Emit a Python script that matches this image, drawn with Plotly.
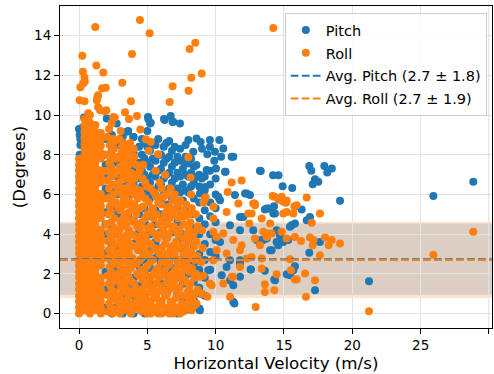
import plotly.graph_objects as go

# ---------------- data ----------------
# Roll (orange): dense core, columns of (x, [y values])
roll_core_columns = [
    (0.0, [0.0, 0.3, 0.62, 0.9, 1.21, 1.5, 1.82, 2.1, 2.41, 2.7, 3.02, 3.3, 3.61, 3.9, 4.22, 4.5, 4.81,
           5.1, 5.42, 5.7, 6.01, 6.3, 6.62, 6.9, 7.21, 7.5, 7.8]),
    (0.4, [0.15, 0.46, 0.75, 1.06, 1.35, 1.66, 1.95, 2.26, 2.55, 2.86, 3.15, 3.46, 3.75, 4.06, 4.35, 4.66,
           4.95, 5.26, 5.55, 5.86, 6.15, 6.46, 6.75, 7.06, 7.35, 7.66, 7.95, 8.26, 8.55, 8.86, 9.15, 9.46, 9.8]),
    (0.8, [0.0, 0.31, 0.6, 0.91, 1.2, 1.51, 1.8, 2.11, 2.4, 2.71, 3.0, 3.31, 3.6, 3.91, 4.2, 4.51, 4.8,
           5.11, 5.4, 5.71, 6.0, 6.31, 6.6, 6.91, 7.2, 7.51, 7.8, 8.11, 8.4, 8.71, 9.0, 9.31, 9.62, 10.0]),
    (1.2, [0.16, 0.45, 0.76, 1.05, 1.36, 1.65, 1.96, 2.25, 2.56, 2.85, 3.16, 3.45, 3.76, 4.05, 4.36, 4.65,
           4.96, 5.25, 5.56, 5.85, 6.16, 6.45, 6.76, 7.05, 7.36, 7.65, 7.96, 8.25, 8.56, 8.85, 9.16, 9.5]),
    (1.6, [0.0, 0.3, 0.61, 0.9, 1.22, 1.5, 1.81, 2.42, 2.7, 3.01, 3.3, 3.62, 3.9, 4.21, 4.82, 5.1, 5.41,
           5.7, 6.02, 6.61, 6.9, 7.22, 7.81, 8.1, 8.45, 8.8, 9.1]),
    (2.35, [0.3, 0.75, 1.3, 2.1, 2.9, 3.8, 4.6, 5.1, 5.9, 6.9, 7.4, 8.1]),
    (2.45, [0.0, 1.0, 1.6, 2.5, 3.3, 4.2, 5.6, 6.5, 7.2, 7.9, 8.8]),
    (2.85, [0.2, 0.6, 1.6, 2.0, 2.8, 3.6, 4.0, 5.4, 6.3, 7.2, 7.9]),
    (3.15, [0.25, 1.6, 2.6, 3.4, 4.4, 5.4, 6.0, 6.8, 7.8, 8.4]),
    (3.25, [0.6, 1.1, 2.2, 3.0, 3.6, 4.8, 5.7, 6.3, 7.0, 7.7, 8.6]),
    (3.55, [1.2, 2.1, 2.9, 3.7, 4.6, 6.1, 7.0, 8.0]),
    (3.65, [0.4, 0.9, 1.8, 2.5, 3.1, 4.2, 5.1, 5.7, 6.4, 7.5, 8.2]),
    (4.05, [0.2, 1.0, 1.5, 2.6, 3.4, 4.6, 5.5, 6.0, 6.8, 7.9]),
    (4.45, [0.5, 1.0, 1.9, 2.7, 3.7, 4.3, 5.3, 6.2, 7.2]),
    (4.85, [0.3, 0.8, 1.4, 2.0, 3.2, 3.9, 4.8, 5.8, 6.6]),
    (5.25, [0.0, 0.6, 1.1, 1.8, 2.6, 3.5, 4.4, 5.1, 6.3]),
    (5.65, [0.3, 0.8, 1.5, 2.2, 3.2, 4.0, 5.0, 5.9]),
    (6.05, [0.0, 0.6, 1.2, 1.9, 2.6, 3.3, 4.0, 4.7, 5.5, 6.3]),
    (6.45, [0.3, 1.0, 1.6, 2.4, 3.0, 3.8, 4.5, 5.2, 6.0]),
    (6.85, [0.0, 0.5, 1.3, 2.0, 2.8, 3.4, 4.2, 5.0, 5.7]),
    (7.25, [0.3, 1.1, 1.8, 2.5, 3.3, 4.0, 4.8, 5.5]),
    (7.65, [0.1, 0.9, 1.6, 2.3, 3.0, 3.8, 4.5, 5.2]),
    (8.05, [0.6, 1.3, 2.1, 2.8, 3.6, 4.3, 5.0]),
    (8.45, [0.4, 1.0, 1.8, 2.7, 3.4, 4.1]),
]

roll_mid_points = [
    (2.1, 0.1), (2.2, 0.5), (2.0, 0.95), (2.2, 1.5), (2.1, 1.9), (2.25, 2.35), (2.05, 2.8), (2.2, 3.2),
    (2.1, 3.65), (2.2, 4.1), (2.0, 4.5), (2.15, 5.0), (2.25, 5.4), (2.05, 5.8), (2.2, 6.3), (2.1, 6.7),
    (2.0, 7.2), (2.2, 7.6), (2.1, 8.0), (2.25, 8.5), (2.05, 8.9), (2.2, 9.3),
    (2.6, 0.2), (2.7, 0.7), (2.55, 1.1), (2.65, 1.8), (2.6, 2.6), (2.7, 3.0), (2.55, 3.4), (2.65, 4.3),
    (2.6, 4.8), (2.7, 5.6), (2.55, 6.0), (2.65, 6.5), (2.6, 7.0), (2.7, 7.8), (2.55, 8.3), (2.65, 8.7),
    (3.0, 0.0), (3.1, 0.4), (2.95, 0.9), (3.05, 1.3), (3.1, 2.0), (2.95, 2.4), (3.0, 3.1), (3.1, 3.8),
    (2.95, 4.2), (3.05, 4.6), (3.0, 5.2), (3.1, 6.1), (2.95, 6.6), (3.0, 7.4), (3.1, 8.1), (2.95, 8.8),
    (3.05, 9.2),
    (3.4, 0.2), (3.5, 0.7), (3.35, 1.5), (3.45, 1.9), (3.4, 2.7), (3.5, 3.3), (3.35, 3.9), (3.45, 4.4),
    (3.4, 5.0), (3.5, 5.5), (3.35, 5.9), (3.45, 6.8), (3.4, 7.3), (3.5, 7.9), (3.35, 8.4),
    (3.8, 0.0), (3.9, 0.5), (3.75, 1.1), (3.85, 1.6), (3.8, 2.3), (3.9, 2.8), (3.75, 3.5), (3.85, 4.0),
    (3.8, 4.7), (3.9, 5.3), (3.75, 6.2), (3.85, 6.6), (3.8, 7.1), (3.9, 7.7), (3.75, 8.6),
    (4.2, 0.3), (4.3, 0.8), (4.15, 1.3), (4.25, 2.0), (4.2, 2.5), (4.3, 3.2), (4.15, 3.9), (4.25, 4.4),
    (4.2, 5.0), (4.3, 5.8), (4.15, 6.3), (4.25, 7.0), (4.2, 7.5),
    (4.6, 0.1), (4.7, 0.6), (4.55, 1.2), (4.65, 1.7), (4.6, 2.2), (4.7, 2.9), (4.55, 3.4), (4.65, 4.0),
    (4.6, 4.6), (4.7, 5.4), (4.55, 6.0), (4.65, 6.8),
    (5.0, 0.0), (5.1, 0.4), (4.95, 1.0), (5.05, 1.5), (5.0, 2.4), (5.1, 3.0), (4.95, 3.6), (5.05, 4.3),
    (5.0, 5.0), (5.1, 5.6), (4.95, 6.4),
    (5.4, 0.2), (5.5, 0.8), (5.35, 1.3), (5.45, 2.0), (5.4, 2.7), (5.5, 3.3), (5.35, 4.1), (5.45, 4.8),
    (5.4, 5.3), (5.5, 6.1),
    (5.8, 0.0), (5.9, 0.5), (5.75, 1.1), (5.85, 1.8), (5.8, 2.3), (5.9, 3.0), (5.75, 3.8), (5.85, 4.5),
    (5.8, 5.6), (5.9, 6.6),
    (6.2, 0.3), (6.3, 0.9), (6.15, 1.4), (6.25, 2.1), (6.2, 2.8), (6.3, 3.5), (6.15, 4.2), (6.25, 5.0),
    (6.2, 5.9),
    (6.6, 0.0), (6.7, 0.6), (6.55, 1.2), (6.65, 1.9), (6.6, 2.5), (6.7, 3.2), (6.55, 4.0), (6.65, 4.8),
    (6.6, 5.4), (6.7, 6.3),
    (7.0, 0.2), (7.1, 0.8), (6.95, 1.6), (7.05, 2.2), (7.0, 3.0), (7.1, 3.6), (6.95, 4.4), (7.05, 5.2),
    (7.0, 6.0),
    (7.4, 0.0), (7.5, 0.5), (7.35, 1.3), (7.45, 2.0), (7.4, 2.7), (7.5, 3.4), (7.35, 4.2), (7.45, 5.0),
    (7.4, 5.7),
    (7.8, 0.3), (7.9, 1.0), (7.75, 1.7), (7.85, 2.5), (7.8, 3.3), (7.9, 4.0), (7.75, 4.9), (7.85, 5.5),
    (8.2, 0.2), (8.3, 0.8), (8.15, 1.5), (8.25, 2.3), (8.2, 3.1), (8.3, 3.9), (8.15, 4.6), (8.25, 5.3),
    (8.2, 6.0),
    (8.6, 0.5), (8.7, 1.2), (8.55, 2.0), (8.65, 2.9), (8.6, 3.6), (8.7, 4.4), (8.55, 5.0),
    (9.0, 1.0), (9.1, 1.9), (8.95, 2.6), (9.05, 3.3), (9.0, 4.2), (9.1, 5.6),
    (4.7, 7.5), (5.1, 8.2), (5.8, 8.03), (4.9, 8.78), (5.25, 8.66), (5.6, 7.2), (6.3, 7.0), (4.0, 8.3),
    (2.4, 9.6), (8.0, 7.88), (8.17, 6.86),
]

roll_outer_points = [
    (1.19, 14.44), (4.46, 14.79), (5.17, 14.13), (8.51, 13.65), (8.1, 13.33), (3.88, 13.08), (0.24, 12.99),
    (1.27, 12.5), (1.78, 12.15), (0.29, 12.18), (0.4, 11.9), (0.42, 11.7), (8.98, 12.1), (8.22, 11.88),
    (0.1, 11.4), (0.3, 11.6), (3.17, 11.63), (1.7, 11.35), (1.96, 11.38), (6.85, 11.45), (8.02, 11.23),
    (1.3, 10.75), (1.4, 11.0), (1.35, 10.9), (0.05, 10.75), (0.4, 10.7), (3.8, 10.7), (6.64, 10.66),
    (1.4, 10.4), (1.9, 10.2), (3.37, 10.15), (4.24, 9.95), (3.66, 9.81), (2.61, 9.88), (4.49, 9.28),
    (1.54, 10.25), (0.68, 10.1), (2.0, 10.25), (2.5, 9.9), (14.22, 14.39),
    (11.17, 6.6), (11.9, 6.7), (10.88, 6.13), (9.27, 5.86), (14.3, 5.88), (14.6, 5.73), (15.2, 5.7),
    (12.85, 5.55), (15.76, 5.41), (28.85, 4.12), (25.93, 2.96), (21.22, 0.12), (12.93, 0.33),
    (16.61, 0.84), (17.27, 1.68), (13.6, 1.47), (13.6, 1.09), (14.29, 1.17), (16.54, 2.02), (15.8, 1.71),
    (15.51, 2.18), (13.37, 2.27), (15.44, 2.74), (17.63, 2.94), (19.1, 3.53), (18.49, 3.7), (18.0, 3.83),
    (18.27, 3.44), (17.15, 3.7), (16.9, 3.83), (17.1, 3.44), (17.03, 4.57), (17.63, 5.04), (16.66, 5.85),
    (15.68, 5.04), (15.2, 5.12), (14.95, 5.04), (14.95, 5.63), (14.58, 5.8), (14.17, 5.92), (14.83, 5.88),
    (15.15, 5.58), (13.98, 4.54), (13.85, 4.03), (13.49, 4.12), (13.24, 3.44), (12.88, 3.78), (12.46, 4.54),
    (12.75, 5.55), (12.63, 5.04), (15.2, 3.78), (15.8, 3.86), (16.24, 3.65), (13.37, 2.77), (12.27, 2.77),
    (12.63, 2.85), (11.05, 0.84), (9.71, 1.43), (10.56, 1.51), (11.17, 1.85), (14.46, 1.98), (15.93, 1.71),
    (12.88, 5.46), (13.37, 4.79), (15.93, 5.46), (13.73, 3.86), (14.1, 4.03), (14.83, 4.12),
    (9.83, 4.12), (10.56, 4.03), (11.29, 3.7), (10.07, 3.19), (10.8, 3.03), (11.78, 3.19), (9.83, 4.79),
    (9.22, 5.8), (9.83, 5.38), (11.66, 5.55), (10.8, 5.12), (12.39, 5.04), (10.07, 3.86), (11.9, 3.44),
    (9.83, 2.69), (9.58, 1.51), (11.29, 1.85), (8.24, 0.17), (7.51, 0.25), (8.85, 1.85), (8.1, 0.84),
    (9.4, 0.84), (11.78, 2.35),
]

# Pitch (blue): columns behind the mass plus scattered points
pitch_core_columns = [
    (1.95, [0.3, 1.2, 2.1, 3.0, 4.0, 4.5, 5.1, 6.0, 6.3, 7.0, 7.5, 8.0, 8.8]),
    (2.4, [0.0, 0.9, 1.7, 2.6, 3.5, 4.4, 5.3, 6.2, 7.1, 8.2, 9.0]),
    (2.8, [0.4, 1.4, 2.2, 3.3, 4.0, 5.0, 6.0, 6.9, 7.6, 8.5]),
    (3.2, [0.0, 1.0, 1.8, 2.7, 3.6, 4.6, 5.5, 6.4, 7.2, 8.0, 8.9]),
    (3.6, [0.3, 1.3, 2.2, 3.0, 4.0, 4.9, 5.8, 6.7, 7.6, 8.3, 9.2]),
    (4.0, [0.0, 0.9, 1.8, 2.6, 3.5, 4.7, 5.5, 6.5, 7.3, 8.1, 8.9]),
    (4.4, [0.4, 1.4, 2.4, 3.2, 4.1, 5.0, 5.9, 6.8, 7.6, 8.4]),
    (4.8, [0.0, 0.9, 1.9, 2.7, 3.8, 4.6, 5.3, 6.2, 7.0, 7.8, 8.6]),
    (5.2, [0.5, 1.5, 2.3, 3.2, 4.0, 4.9, 5.8, 6.6, 7.4, 8.2]),
    (5.6, [0.1, 1.0, 2.0, 2.8, 3.6, 4.5, 5.2, 6.0, 6.9, 7.7, 8.5]),
    (6.0, [0.6, 1.5, 2.5, 3.3, 4.1, 5.0, 5.8, 6.5, 7.3, 8.0]),
    (6.4, [0.1, 1.1, 2.0, 2.9, 3.8, 4.6, 5.5, 6.2, 7.0, 7.8, 8.6]),
    (6.8, [0.5, 1.5, 2.3, 3.3, 4.1, 5.0, 5.8, 6.6, 7.4, 8.2]),
    (7.2, [0.0, 1.0, 1.9, 2.7, 3.6, 4.6, 5.4, 6.3, 7.1, 7.9]),
    (7.6, [0.6, 1.5, 2.4, 3.2, 4.0, 4.9, 5.7, 6.5, 7.3]),
    (8.0, [0.2, 1.1, 2.0, 2.8, 3.6, 4.4, 5.2, 6.1, 6.9, 7.6]),
    (8.4, [0.7, 1.6, 2.5, 3.4, 4.3, 5.0, 5.8, 6.6, 7.4]),
    (8.8, [0.2, 1.3, 2.2, 3.0, 4.0, 4.8, 5.6, 6.4, 7.0]),
    (9.2, [0.9, 1.8, 2.7, 3.5, 4.5, 5.2, 6.2, 6.9]),
    (9.6, [2.2, 3.1, 4.0, 4.9, 5.6, 6.5]),
    (10.0, [2.9, 3.7, 4.6, 5.3, 6.0, 6.8]),
    (4.6, [6.4, 7.2, 8.0, 8.8]),
    (5.0, [6.0, 6.8, 7.6, 8.4, 9.2]),
    (5.4, [6.2, 7.0, 7.8, 8.6]),
    (5.8, [6.4, 7.2, 8.0, 8.8]),
    (6.2, [6.0, 6.8, 7.6, 8.4]),
    (6.6, [6.3, 7.1, 7.9, 8.7]),
    (7.0, [6.0, 6.8, 7.6, 8.4]),
    (7.4, [6.1, 6.9, 7.7, 8.3]),
    (7.8, [6.2, 7.0, 7.9, 8.5]),
    (8.2, [6.4, 7.1, 7.8]),
]

pitch_outer_points = [
    (0.05, 8.0), (0.1, 8.5), (0.05, 9.0), (0.1, 8.8), (0.3, 9.4), (0.37, 9.88), (0.0, 9.3),
    (2.03, 9.83), (5.05, 9.91), (5.25, 9.61), (6.22, 9.8), (6.71, 9.96), (6.9, 9.66), (7.39, 9.58),
    (3.49, 9.16), (3.97, 8.9), (2.76, 9.58), (5.07, 9.8), (5.2, 9.58), (6.27, 9.76), (6.85, 9.65),
    (8.0, 8.74), (8.6, 8.82), (8.9, 8.65), (9.58, 8.74), (10.27, 8.74), (10.56, 8.32), (11.29, 7.9),
    (9.95, 8.15), (9.39, 8.03), (8.36, 8.15), (8.0, 7.56), (9.58, 7.19), (10.02, 7.31), (10.73, 7.14),
    (8.6, 7.48), (8.98, 6.81), (9.22, 6.38), (10.19, 5.88), (11.41, 5.97), (12.15, 6.05), (12.51, 5.97),
    (9.58, 8.4), (11.17, 7.9), (10.68, 7.14), (9.34, 7.23), (7.76, 7.56), (8.61, 6.89), (9.9, 7.7),
    (10.4, 7.9), (9.0, 8.3),
    (13.24, 7.19), (14.2, 6.97), (14.6, 6.97), (14.9, 6.42), (15.6, 6.33), (13.9, 5.29), (13.3, 7.18),
    (16.85, 7.43), (17.0, 7.19), (17.27, 6.77), (17.51, 6.64), (17.1, 6.52), (17.95, 7.44), (18.17, 7.11),
    (18.5, 7.31), (28.85, 6.64), (19.1, 5.68), (25.93, 5.92), (21.22, 1.63), (17.27, 1.17), (14.29, 1.71),
    (15.2, 1.98), (15.44, 1.93), (15.8, 2.38), (13.6, 2.15), (12.58, 2.22), (16.85, 3.06), (17.63, 3.61),
    (16.9, 4.87), (16.66, 4.7), (16.29, 5.24), (15.8, 5.38), (14.22, 5.04), (13.6, 5.24), (14.27, 5.41),
    (15.44, 4.37), (15.56, 4.45), (14.46, 4.2), (14.7, 3.95), (14.95, 3.61), (14.46, 3.61), (14.1, 3.19),
    (13.37, 3.7), (13.73, 3.78), (12.75, 4.2), (11.78, 1.85), (11.37, 0.5), (11.29, 1.43), (10.44, 1.93),
    (11.05, 1.68), (12.56, 2.22), (14.34, 1.68), (15.68, 2.18), (12.02, 4.87), (13.73, 5.29),
    (14.34, 5.04), (15.8, 4.54), (13.0, 3.7), (13.49, 3.7), (13.98, 3.19), (14.58, 3.44), (15.31, 3.7),
    (9.46, 2.18), (10.8, 2.35), (11.78, 2.69), (10.32, 3.61), (11.05, 4.45), (11.78, 4.2), (8.85, 6.05),
    (10.32, 5.71), (12.27, 6.05), (11.78, 4.87), (11.05, 2.69), (11.78, 2.52), (11.29, 0.59),
    (8.85, 1.01), (8.8, 0.25), (8.1, 0.33), (8.85, 0.17),
]

# Averages shown in the legend
pitch_mean, pitch_std = 2.74, 1.80
roll_mean, roll_std = 2.70, 1.92

x_ticks = [0, 5, 10, 15, 20, 25, 30]
y_ticks = [0, 2, 4, 6, 8, 10, 12, 14]
x_range = [-1.39, 30.22]
y_range = [-0.73, 15.5]

BLUE = "#1f77b4"
ORANGE = "#ff7f0e"


def flatten(columns, points):
    xs, ys = [], []
    for cx, col in columns:
        for v in col:
            xs.append(cx)
            ys.append(v)
    for px, py in points:
        xs.append(px)
        ys.append(py)
    return xs, ys


pitch_x, pitch_y = flatten(pitch_core_columns, pitch_outer_points)
roll_x, roll_y = flatten(roll_core_columns, roll_mid_points + roll_outer_points)

FONT = "DejaVu Sans"

fig = go.Figure()
fig.add_trace(go.Scatter(x=pitch_x, y=pitch_y, mode="markers", name="Pitch",
                         marker=dict(color=BLUE, size=8, line=dict(width=0)), legendgroup="a"))
fig.add_trace(go.Scatter(x=roll_x, y=roll_y, mode="markers", name="Roll",
                         marker=dict(color=ORANGE, size=8, line=dict(width=0)), legendgroup="b"))
fig.add_trace(go.Scatter(x=x_range, y=[pitch_mean, pitch_mean], mode="lines",
                         name=f"Avg. Pitch ({pitch_mean:.1f} ± {pitch_std:.1f})",
                         line=dict(color=BLUE, width=2, dash="7.7px,3.3px"), legendgroup="c"))
fig.add_trace(go.Scatter(x=x_range, y=[roll_mean, roll_mean], mode="lines",
                         name=f"Avg. Roll ({roll_mean:.1f} ± {roll_std:.1f})",
                         line=dict(color=ORANGE, width=2, dash="7.7px,3.3px"), legendgroup="d"))

fig.add_shape(type="rect", xref="paper", yref="y", x0=0, x1=1,
              y0=pitch_mean - pitch_std, y1=pitch_mean + pitch_std,
              fillcolor="rgba(31,119,180,0.2)", line=dict(width=0), layer="below")
fig.add_shape(type="rect", xref="paper", yref="y", x0=0, x1=1,
              y0=roll_mean - roll_std, y1=roll_mean + roll_std,
              fillcolor="rgba(255,127,14,0.2)", line=dict(width=0), layer="below")

axis_common = dict(
    showline=True, linecolor="black", linewidth=1.1, mirror=True,
    ticks="outside", ticklen=5, tickwidth=1.1, tickcolor="black",
    showgrid=True, gridcolor="#e3e3e3", gridwidth=1.1, zeroline=False,
    tickfont=dict(family=FONT, size=13.5, color="black"),
    automargin=False,
)

fig.update_xaxes(range=x_range, tickvals=x_ticks,
                 title=dict(text="Horizontal Velocity (m/s)", font=dict(family=FONT, size=16.7, color="black"),
                            standoff=4),
                 **axis_common)
fig.update_yaxes(range=y_range, tickvals=y_ticks,
                 title=dict(text="(Degrees)", font=dict(family=FONT, size=16.7, color="black"), standoff=4),
                 **axis_common)

fig.update_layout(
    width=494, height=374,
    margin=dict(l=60, r=2, t=6, b=46),
    plot_bgcolor="white", paper_bgcolor="white",
    font=dict(family=FONT, color="black"),
    showlegend=True,
    legend=dict(x=0.988, xanchor="right", y=0.978, yanchor="top",
                bgcolor="rgba(255,255,255,0.8)", bordercolor="#cccccc", borderwidth=1,
                font=dict(family=FONT, size=14.5, color="black"), tracegroupgap=1,
                itemwidth=30),
)

fig.write_html("out.html", config={"displayModeBar": False},
               post_script="document.body.style.margin='0';document.body.style.padding='0';"
                           "document.body.style.overflow='hidden';")
